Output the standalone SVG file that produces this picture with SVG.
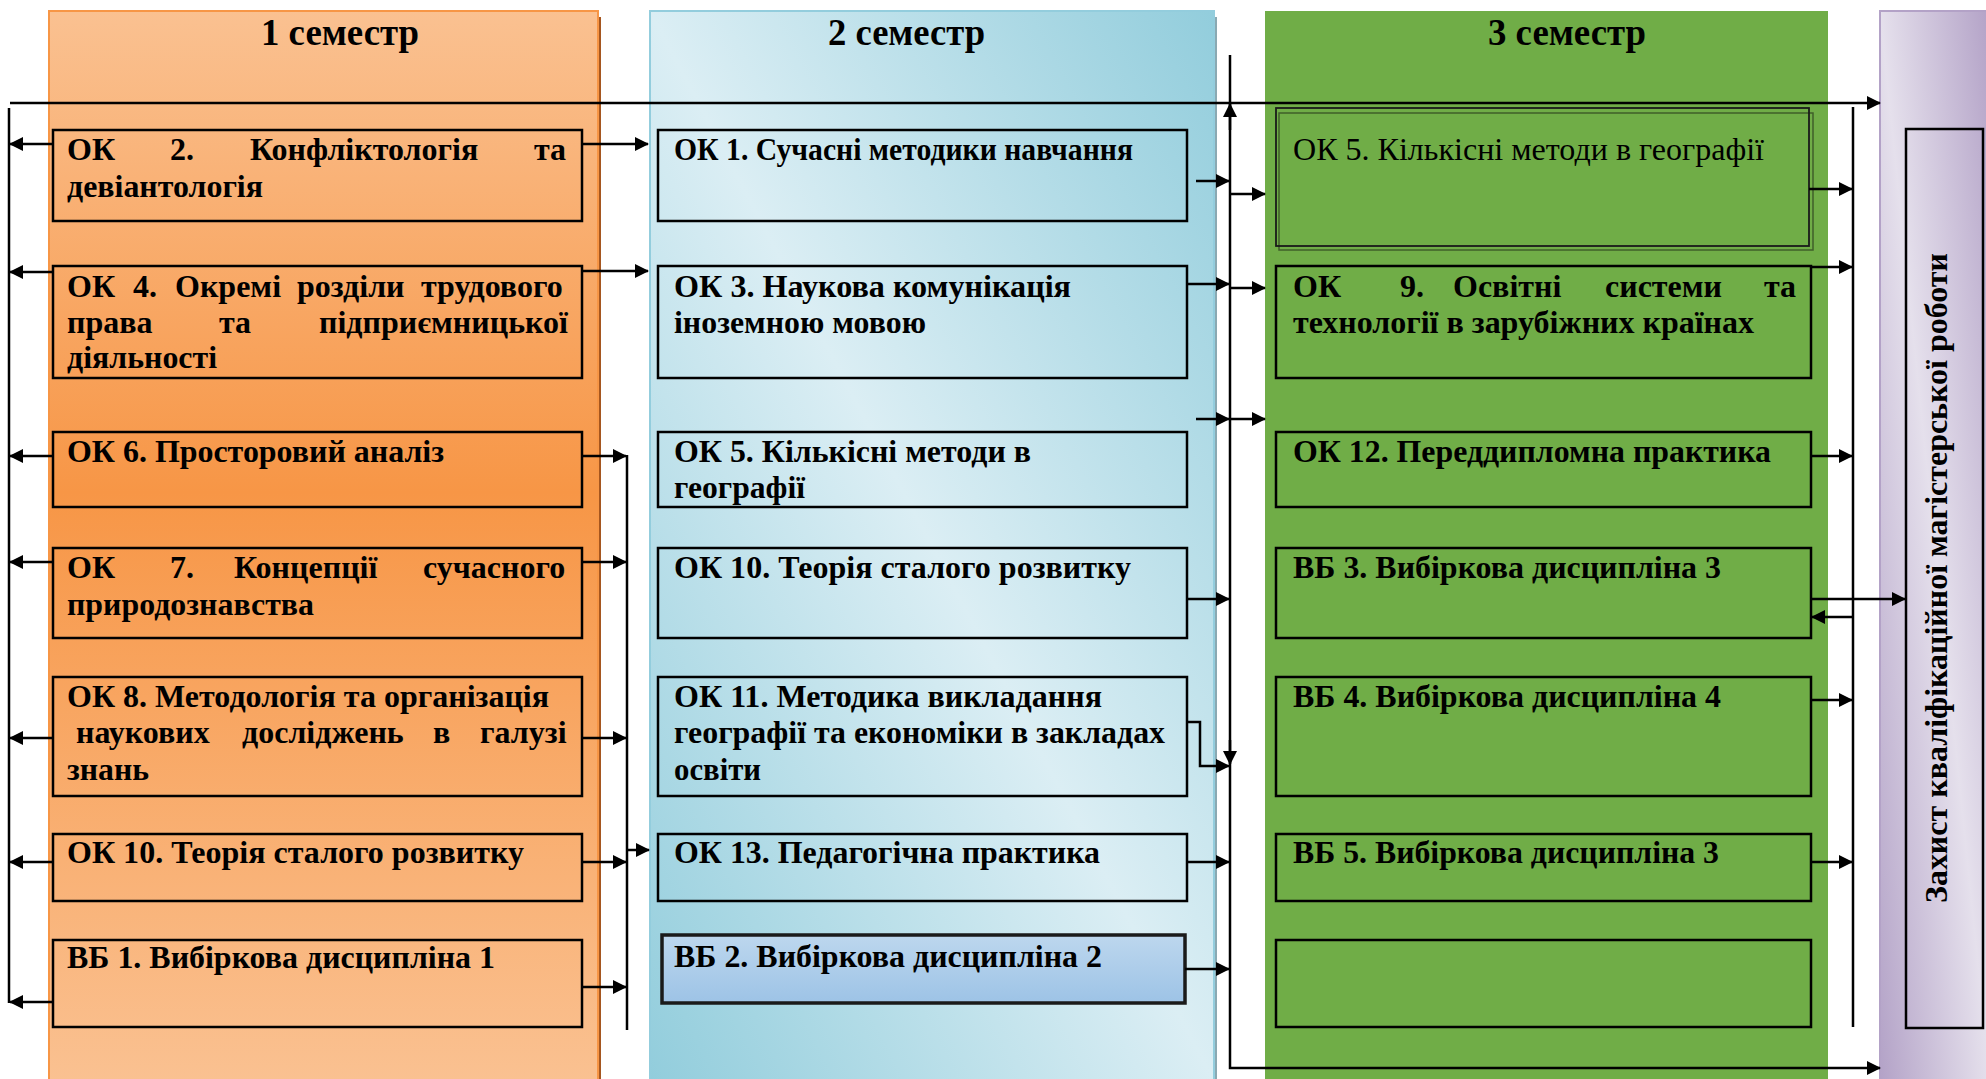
<svg xmlns="http://www.w3.org/2000/svg" width="1986" height="1079" viewBox="0 0 1986 1079">
<defs>
  <linearGradient id="gOr" x1="0" y1="0" x2="0" y2="1">
    <stop offset="0" stop-color="#FAC191"/>
    <stop offset="0.45" stop-color="#F79646"/>
    <stop offset="1" stop-color="#FAC191"/>
  </linearGradient>
  <linearGradient id="gBl" x1="1" y1="0" x2="0" y2="1">
    <stop offset="0" stop-color="#92CDDC"/>
    <stop offset="0.5" stop-color="#DBEEF4"/>
    <stop offset="1" stop-color="#92CDDC"/>
  </linearGradient>
  <linearGradient id="gPu" x1="1" y1="0" x2="0" y2="1">
    <stop offset="0" stop-color="#B3A2C7"/>
    <stop offset="0.5" stop-color="#E5E0EC"/>
    <stop offset="1" stop-color="#B3A2C7"/>
  </linearGradient>
  <linearGradient id="gVb2" x1="0" y1="0" x2="0" y2="1">
    <stop offset="0" stop-color="#BDD7EE"/>
    <stop offset="1" stop-color="#9DC3E6"/>
  </linearGradient>
  <marker id="ah" markerUnits="userSpaceOnUse" markerWidth="14" markerHeight="14" refX="13" refY="7" orient="auto">
    <path d="M0,0 L14,7 L0,14 z" fill="#000"/>
  </marker>
  <style>
    .box{fill:none;stroke:#000;stroke-width:2.5}
    .t{font-family:"Liberation Serif","Times New Roman",serif;font-weight:bold;font-size:32px;fill:#000}
    .r{font-family:"Liberation Serif","Times New Roman",serif;font-weight:normal;font-size:32px;fill:#000}
    .h{font-family:"Liberation Serif","Times New Roman",serif;font-weight:bold;font-size:38px;fill:#000}
    .ln{fill:none;stroke:#000;stroke-width:2.5}
    .ar{fill:none;stroke:#000;stroke-width:2.5;marker-end:url(#ah)}
  </style>
</defs>

<rect width="1986" height="1079" fill="#fff"/>

<!-- semester columns -->
<g id="sem1">
  <rect x="598" y="17" width="3" height="1062" fill="#A5561F"/>
  <rect x="49" y="11" width="549" height="1070" fill="url(#gOr)" stroke="#F79646" stroke-width="2"/>
  <text class="h" x="261" y="45" textLength="158" lengthAdjust="spacingAndGlyphs">1 семестр</text>
</g>
<g id="sem2">
  <rect x="1214" y="17" width="3" height="1062" fill="#8AA9B2"/>
  <rect x="650" y="11" width="564" height="1070" fill="url(#gBl)" stroke="#93CDDD" stroke-width="2"/>
  <text class="h" x="828" y="45" textLength="157" lengthAdjust="spacingAndGlyphs">2 семестр</text>
</g>
<g id="sem3">
  <rect x="1265" y="11" width="563" height="1070" fill="#70AD47"/>
  <text class="h" x="1488" y="45" textLength="158" lengthAdjust="spacingAndGlyphs">3 семестр</text>
</g>
<g id="defense">
  <rect x="1880" y="11" width="110" height="1070" fill="url(#gPu)" stroke="#B3A2C7" stroke-width="2"/>
  <rect x="1906" y="129" width="77" height="899" fill="none" stroke="#000" stroke-width="2.5"/>
  <text class="t" font-size="31" transform="translate(1947,903) rotate(-90)" textLength="650" lengthAdjust="spacingAndGlyphs" style="font-size:31px">Захист кваліфікаційної магістерської роботи</text>
</g>

<!-- semester 1 nodes -->
<g id="ok2-s1">
  <rect class="box" x="53" y="130" width="529" height="91"/>
  <text class="t" y="160"><tspan x="67">ОК </tspan><tspan x="170">2. </tspan><tspan x="250">Конфліктологія </tspan><tspan x="534">та</tspan></text>
  <text class="t" x="67" y="197" textLength="196" lengthAdjust="spacingAndGlyphs">девіантологія</text>
</g>
<g id="ok4-s1">
  <rect class="box" x="53" y="266" width="529" height="112"/>
  <text class="t" y="297"><tspan x="67">ОК </tspan><tspan x="133">4. </tspan><tspan x="175">Окремі </tspan><tspan x="297">розділи </tspan><tspan x="421">трудового</tspan></text>
  <text class="t" y="333"><tspan x="67">права </tspan><tspan x="219">та </tspan><tspan x="319">підприємницької</tspan></text>
  <text class="t" x="67" y="368" textLength="150" lengthAdjust="spacingAndGlyphs">діяльності</text>
</g>
<g id="ok6-s1">
  <rect class="box" x="53" y="432" width="529" height="75"/>
  <text class="t" x="67" y="462" textLength="377" lengthAdjust="spacingAndGlyphs">ОК 6. Просторовий аналіз</text>
</g>
<g id="ok7-s1">
  <rect class="box" x="53" y="548" width="529" height="90"/>
  <text class="t" y="578"><tspan x="67">ОК </tspan><tspan x="170">7. </tspan><tspan x="234">Концепції </tspan><tspan x="423">сучасного</tspan></text>
  <text class="t" x="67" y="615" textLength="247" lengthAdjust="spacingAndGlyphs">природознавства</text>
</g>
<g id="ok8-s1">
  <rect class="box" x="53" y="677" width="529" height="119"/>
  <text class="t" x="67" y="707" textLength="482" lengthAdjust="spacingAndGlyphs">ОК 8. Методологія та організація</text>
  <text class="t" y="743"><tspan x="76">наукових </tspan><tspan x="242">досліджень </tspan><tspan x="433">в </tspan><tspan x="480">галузі</tspan></text>
  <text class="t" x="67" y="780" textLength="82" lengthAdjust="spacingAndGlyphs">знань</text>
</g>
<g id="ok10-s1">
  <rect class="box" x="53" y="834" width="529" height="67"/>
  <text class="t" x="67" y="863" textLength="457" lengthAdjust="spacingAndGlyphs">ОК 10. Теорія сталого розвитку</text>
</g>
<g id="vb1-s1">
  <rect class="box" x="53" y="940" width="529" height="87"/>
  <text class="t" x="67" y="968" textLength="428" lengthAdjust="spacingAndGlyphs">ВБ 1. Вибіркова дисципліна 1</text>
</g>

<!-- semester 2 nodes -->
<g id="ok1-s2">
  <rect class="box" x="658" y="130" width="529" height="91"/>
  <text class="t" x="674" y="160" textLength="459" lengthAdjust="spacingAndGlyphs">ОК 1. Сучасні методики навчання</text>
</g>
<g id="ok3-s2">
  <rect class="box" x="658" y="266" width="529" height="112"/>
  <text class="t" x="674" y="297" textLength="397" lengthAdjust="spacingAndGlyphs">ОК 3. Наукова комунікація</text>
  <text class="t" x="674" y="333" textLength="252" lengthAdjust="spacingAndGlyphs">іноземною мовою</text>
</g>
<g id="ok5-s2">
  <rect class="box" x="658" y="432" width="529" height="75"/>
  <text class="t" x="674" y="462" textLength="357" lengthAdjust="spacingAndGlyphs">ОК 5. Кількісні методи в</text>
  <text class="t" x="674" y="498" textLength="131" lengthAdjust="spacingAndGlyphs">географії</text>
</g>
<g id="ok10-s2">
  <rect class="box" x="658" y="548" width="529" height="90"/>
  <text class="t" x="674" y="578" textLength="457" lengthAdjust="spacingAndGlyphs">ОК 10. Теорія сталого розвитку</text>
</g>
<g id="ok11-s2">
  <rect class="box" x="658" y="677" width="529" height="119"/>
  <text class="t" x="674" y="707" textLength="428" lengthAdjust="spacingAndGlyphs">ОК 11. Методика викладання</text>
  <text class="t" x="674" y="743" textLength="491" lengthAdjust="spacingAndGlyphs">географії та економіки в закладах</text>
  <text class="t" x="674" y="780" textLength="87" lengthAdjust="spacingAndGlyphs">освіти</text>
</g>
<g id="ok13-s2">
  <rect class="box" x="658" y="834" width="529" height="67"/>
  <text class="t" x="674" y="863" textLength="426" lengthAdjust="spacingAndGlyphs">ОК 13. Педагогічна практика</text>
</g>
<g id="vb2-s2">
  <rect x="662" y="935" width="523" height="68" fill="url(#gVb2)" stroke="#1A1A1A" stroke-width="3.5"/>
  <text class="t" x="674" y="967" textLength="428" lengthAdjust="spacingAndGlyphs">ВБ 2. Вибіркова дисципліна 2</text>
</g>

<!-- semester 3 nodes -->
<g id="ok5-s3">
  <rect x="1279" y="113" width="534" height="137" fill="none" stroke="#3F5F2A" stroke-width="1.5"/>
  <rect x="1276" y="108" width="533" height="138" fill="none" stroke="#1A1A1A" stroke-width="1.8"/>
  <text class="r" x="1293" y="160" textLength="471" lengthAdjust="spacingAndGlyphs">ОК 5. Кількісні методи в географії</text>
</g>
<g id="ok9-s3">
  <rect class="box" x="1276" y="266" width="535" height="112"/>
  <text class="t" y="297"><tspan x="1293">ОК </tspan><tspan x="1400">9. </tspan><tspan x="1453">Освітні </tspan><tspan x="1605">системи </tspan><tspan x="1764">та</tspan></text>
  <text class="t" x="1293" y="333" textLength="461" lengthAdjust="spacingAndGlyphs">технології в зарубіжних країнах</text>
</g>
<g id="ok12-s3">
  <rect class="box" x="1276" y="432" width="535" height="75"/>
  <text class="t" x="1293" y="462" textLength="478" lengthAdjust="spacingAndGlyphs">ОК 12. Переддипломна практика</text>
</g>
<g id="vb3-s3">
  <rect class="box" x="1276" y="548" width="535" height="90"/>
  <text class="t" x="1293" y="578" textLength="428" lengthAdjust="spacingAndGlyphs">ВБ 3. Вибіркова дисципліна 3</text>
</g>
<g id="vb4-s3">
  <rect class="box" x="1276" y="677" width="535" height="119"/>
  <text class="t" x="1293" y="707" textLength="428" lengthAdjust="spacingAndGlyphs">ВБ 4. Вибіркова дисципліна 4</text>
</g>
<g id="vb5-s3">
  <rect class="box" x="1276" y="834" width="535" height="67"/>
  <text class="t" x="1293" y="863" textLength="426" lengthAdjust="spacingAndGlyphs">ВБ 5. Вибіркова дисципліна 3</text>
</g>
<g id="empty-s3">
  <rect class="box" x="1276" y="940" width="535" height="87"/>
</g>

<!-- connectors -->
<g id="connectors">
  <path class="ar" d="M10,103 H1880"/>
  <path class="ln" d="M9,108 V1003"/>
  <path class="ar" d="M53,144 H10"/>
  <path class="ar" d="M53,272 H10"/>
  <path class="ar" d="M53,456 H10"/>
  <path class="ar" d="M53,562 H10"/>
  <path class="ar" d="M53,738 H10"/>
  <path class="ar" d="M53,862 H10"/>
  <path class="ar" d="M53,1002 H10"/>

  <path class="ar" d="M582,144 H648"/>
  <path class="ar" d="M582,271 H648"/>

  <path class="ln" d="M627,455 V1030"/>
  <path class="ar" d="M582,456 H626"/>
  <path class="ar" d="M582,562 H626"/>
  <path class="ar" d="M582,738 H626"/>
  <path class="ar" d="M582,862 H626"/>
  <path class="ar" d="M582,987 H626"/>
  <path class="ar" d="M627,850 H649"/>

  <path class="ar" d="M1230,55 V1068 H1880"/>
  <path class="ar" d="M1230,130 V104"/>
  <path class="ar" d="M1230,740 V764"/>
  <path class="ar" d="M1196,181 H1229"/>
  <path class="ar" d="M1187,284 H1229"/>
  <path class="ar" d="M1196,419 H1229"/>
  <path class="ar" d="M1187,599 H1229"/>
  <path class="ar" d="M1187,722 H1200 V766 H1229"/>
  <path class="ar" d="M1187,862 H1229"/>
  <path class="ar" d="M1185,969 H1229"/>

  <path class="ar" d="M1230,194 H1265"/>
  <path class="ar" d="M1230,288 H1265"/>
  <path class="ar" d="M1230,419 H1265"/>

  <path class="ln" d="M1853,107 V1027"/>
  <path class="ar" d="M1809,189 H1852"/>
  <path class="ar" d="M1811,267 H1852"/>
  <path class="ar" d="M1811,456 H1852"/>
  <path class="ar" d="M1811,599 H1905"/>
  <path class="ar" d="M1853,617 H1812"/>
  <path class="ar" d="M1811,700 H1852"/>
  <path class="ar" d="M1811,862 H1852"/>
</g>
</svg>
